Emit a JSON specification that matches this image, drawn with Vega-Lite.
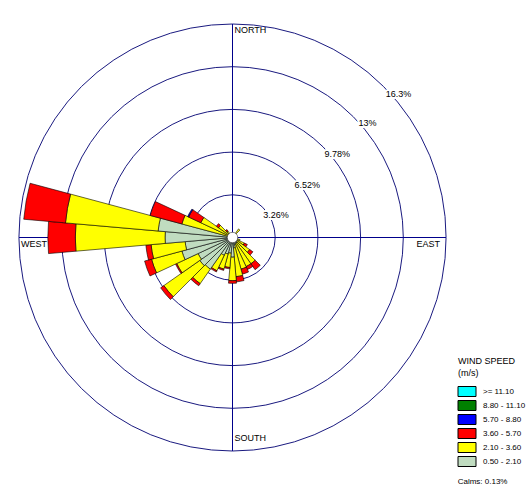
{
  "$schema": "https://vega.github.io/schema/vega-lite/v6.json",
  "width": 427,
  "height": 427,
  "padding": {"left": 17, "top": 22, "right": 0, "bottom": 0},
  "autosize": {"type": "pad"},
  "background": "white",
  "config": {"view": {"stroke": null}, "font": "Liberation Sans"},
  "datasets": {
    "rings": [
      {"r": 3.26, "label": "3.26%", "ang": 63},
      {"r": 6.52, "label": "6.52%", "ang": 55},
      {"r": 9.78, "label": "9.78%", "ang": 51.4},
      {"r": 13.04, "label": "13%", "ang": 49.8},
      {"r": 16.3, "label": "16.3%", "ang": 49.1}
    ],
    "axes": [
      {"x1": -16.3, "x2": 16.3, "y1": 0, "y2": 0},
      {"x1": 0, "x2": 0, "y1": -16.3, "y2": 16.3}
    ],
    "calm": [{"r": 0.4, "label": "Calms: 0.13%", "lx": 17.19, "ly": -18.8}],
    "bars": [
      {"d0": 35, "d1": 45, "lo": 0, "hi": 0.3, "cls": "0.50 - 2.10"},
      {"d0": 35, "d1": 45, "lo": 0.3, "hi": 0.8, "cls": "2.10 - 3.60"},
      {"d0": 105, "d1": 115, "lo": 0, "hi": 0.2, "cls": "0.50 - 2.10"},
      {"d0": 105, "d1": 115, "lo": 0.2, "hi": 0.6, "cls": "2.10 - 3.60"},
      {"d0": 115, "d1": 125, "lo": 0, "hi": 0.3, "cls": "0.50 - 2.10"},
      {"d0": 115, "d1": 125, "lo": 0.3, "hi": 1.0, "cls": "2.10 - 3.60"},
      {"d0": 115, "d1": 125, "lo": 1.0, "hi": 1.25, "cls": "3.60 - 5.70"},
      {"d0": 125, "d1": 135, "lo": 0, "hi": 0.4, "cls": "0.50 - 2.10"},
      {"d0": 125, "d1": 135, "lo": 0.4, "hi": 1.6, "cls": "2.10 - 3.60"},
      {"d0": 125, "d1": 135, "lo": 1.6, "hi": 1.9, "cls": "3.60 - 5.70"},
      {"d0": 135, "d1": 145, "lo": 0, "hi": 0.5, "cls": "0.50 - 2.10"},
      {"d0": 135, "d1": 145, "lo": 0.5, "hi": 2.45, "cls": "2.10 - 3.60"},
      {"d0": 135, "d1": 145, "lo": 2.45, "hi": 3.0, "cls": "3.60 - 5.70"},
      {"d0": 145, "d1": 155, "lo": 0, "hi": 0.5, "cls": "0.50 - 2.10"},
      {"d0": 145, "d1": 155, "lo": 0.5, "hi": 2.45, "cls": "2.10 - 3.60"},
      {"d0": 145, "d1": 155, "lo": 2.45, "hi": 2.7, "cls": "3.60 - 5.70"},
      {"d0": 155, "d1": 165, "lo": 0, "hi": 0.6, "cls": "0.50 - 2.10"},
      {"d0": 155, "d1": 165, "lo": 0.6, "hi": 2.5, "cls": "2.10 - 3.60"},
      {"d0": 155, "d1": 165, "lo": 2.5, "hi": 2.9, "cls": "3.60 - 5.70"},
      {"d0": 165, "d1": 175, "lo": 0, "hi": 0.8, "cls": "0.50 - 2.10"},
      {"d0": 165, "d1": 175, "lo": 0.8, "hi": 3.0, "cls": "2.10 - 3.60"},
      {"d0": 165, "d1": 175, "lo": 3.0, "hi": 3.4, "cls": "3.60 - 5.70"},
      {"d0": 175, "d1": 185, "lo": 0, "hi": 1.5, "cls": "0.50 - 2.10"},
      {"d0": 175, "d1": 185, "lo": 1.5, "hi": 3.3, "cls": "2.10 - 3.60"},
      {"d0": 175, "d1": 185, "lo": 3.3, "hi": 3.5, "cls": "3.60 - 5.70"},
      {"d0": 185, "d1": 195, "lo": 0, "hi": 1.2, "cls": "0.50 - 2.10"},
      {"d0": 185, "d1": 195, "lo": 1.2, "hi": 2.3, "cls": "2.10 - 3.60"},
      {"d0": 185, "d1": 195, "lo": 2.3, "hi": 2.4, "cls": "3.60 - 5.70"},
      {"d0": 195, "d1": 205, "lo": 0, "hi": 1.3, "cls": "0.50 - 2.10"},
      {"d0": 195, "d1": 205, "lo": 1.3, "hi": 2.5, "cls": "2.10 - 3.60"},
      {"d0": 195, "d1": 205, "lo": 2.5, "hi": 2.6, "cls": "3.60 - 5.70"},
      {"d0": 205, "d1": 215, "lo": 0, "hi": 1.5, "cls": "0.50 - 2.10"},
      {"d0": 205, "d1": 215, "lo": 1.5, "hi": 2.8, "cls": "2.10 - 3.60"},
      {"d0": 205, "d1": 215, "lo": 2.8, "hi": 2.9, "cls": "3.60 - 5.70"},
      {"d0": 215, "d1": 225, "lo": 0, "hi": 2.95, "cls": "0.50 - 2.10"},
      {"d0": 215, "d1": 225, "lo": 2.95, "hi": 4.3, "cls": "2.10 - 3.60"},
      {"d0": 215, "d1": 225, "lo": 4.3, "hi": 4.5, "cls": "3.60 - 5.70"},
      {"d0": 225, "d1": 235, "lo": 0, "hi": 3.05, "cls": "0.50 - 2.10"},
      {"d0": 225, "d1": 235, "lo": 3.05, "hi": 6.4, "cls": "2.10 - 3.60"},
      {"d0": 225, "d1": 235, "lo": 6.4, "hi": 6.7, "cls": "3.60 - 5.70"},
      {"d0": 235, "d1": 245, "lo": 0, "hi": 2.9, "cls": "0.50 - 2.10"},
      {"d0": 235, "d1": 245, "lo": 2.9, "hi": 4.7, "cls": "2.10 - 3.60"},
      {"d0": 235, "d1": 245, "lo": 4.7, "hi": 4.8, "cls": "3.60 - 5.70"},
      {"d0": 245, "d1": 255, "lo": 0, "hi": 4.0, "cls": "0.50 - 2.10"},
      {"d0": 245, "d1": 255, "lo": 4.0, "hi": 6.4, "cls": "2.10 - 3.60"},
      {"d0": 245, "d1": 255, "lo": 6.4, "hi": 6.95, "cls": "3.60 - 5.70"},
      {"d0": 255, "d1": 265, "lo": 0, "hi": 3.63, "cls": "0.50 - 2.10"},
      {"d0": 255, "d1": 265, "lo": 3.63, "hi": 6.24, "cls": "2.10 - 3.60"},
      {"d0": 255, "d1": 265, "lo": 6.24, "hi": 6.64, "cls": "3.60 - 5.70"},
      {"d0": 265, "d1": 275, "lo": 0, "hi": 5.15, "cls": "0.50 - 2.10"},
      {"d0": 265, "d1": 275, "lo": 5.15, "hi": 12.0, "cls": "2.10 - 3.60"},
      {"d0": 265, "d1": 275, "lo": 12.0, "hi": 14.1, "cls": "3.60 - 5.70"},
      {"d0": 275, "d1": 285, "lo": 0, "hi": 5.7, "cls": "0.50 - 2.10"},
      {"d0": 275, "d1": 285, "lo": 5.7, "hi": 12.8, "cls": "2.10 - 3.60"},
      {"d0": 275, "d1": 285, "lo": 12.8, "hi": 16.0, "cls": "3.60 - 5.70"},
      {"d0": 285, "d1": 295, "lo": 0, "hi": 0.3, "cls": "0.50 - 2.10"},
      {"d0": 285, "d1": 295, "lo": 0.3, "hi": 4.0, "cls": "2.10 - 3.60"},
      {"d0": 285, "d1": 295, "lo": 4.0, "hi": 6.5, "cls": "3.60 - 5.70"},
      {"d0": 295, "d1": 305, "lo": 0, "hi": 0.3, "cls": "0.50 - 2.10"},
      {"d0": 295, "d1": 305, "lo": 0.3, "hi": 2.67, "cls": "2.10 - 3.60"},
      {"d0": 295, "d1": 305, "lo": 2.67, "hi": 3.7, "cls": "3.60 - 5.70"},
      {"d0": 295, "d1": 305, "lo": 3.7, "hi": 3.78, "cls": "5.70 - 8.80"},
      {"d0": 305, "d1": 315, "lo": 0, "hi": 0.3, "cls": "0.50 - 2.10"},
      {"d0": 305, "d1": 315, "lo": 0.3, "hi": 1.3, "cls": "2.10 - 3.60"},
      {"d0": 305, "d1": 315, "lo": 1.3, "hi": 1.5, "cls": "3.60 - 5.70"},
      {"d0": 315, "d1": 325, "lo": 0, "hi": 0.2, "cls": "0.50 - 2.10"},
      {"d0": 315, "d1": 325, "lo": 0.2, "hi": 0.6, "cls": "2.10 - 3.60"},
      {"d0": 315, "d1": 325, "lo": 0.6, "hi": 0.75, "cls": "3.60 - 5.70"}
    ],
    "dirA": [
      {"t": "NORTH", "x": 0, "y": 16.3},
      {"t": "WEST", "x": -16.3, "y": 0}
    ],
    "dirE": [{"t": "EAST", "x": 16.3, "y": 0}],
    "dirS": [{"t": "SOUTH", "x": 0, "y": -16.3}]
  },
  "layer": [
    {
      "data": {"name": "rings"},
      "mark": {"type": "arc", "theta": 0, "theta2": 6.2832, "filled": false, "fill": null, "stroke": "#1a1a80", "strokeWidth": 1},
      "encoding": {
        "radius": {"field": "r", "type": "quantitative", "stack": null, "scale": {"type": "linear", "domain": [0, 16.3], "range": [0, 213.5], "zero": true, "nice": false}}
      }
    },
    {
      "data": {"name": "axes"},
      "mark": {"type": "rule", "stroke": "#00008b", "strokeWidth": 1},
      "encoding": {
        "x": {"field": "x1", "type": "quantitative", "axis": null, "scale": {"domain": [-16.3, 16.3], "nice": false, "zero": false}},
        "x2": {"field": "x2"},
        "y": {"field": "y1", "type": "quantitative", "axis": null, "scale": {"domain": [-16.3, 16.3], "nice": false, "zero": false}},
        "y2": {"field": "y2"}
      }
    },
    {
      "data": {"name": "bars"},
      "mark": {"type": "arc", "stroke": "black", "strokeWidth": 0.6, "opacity": 1},
      "encoding": {
        "theta": {"field": "d0", "type": "quantitative", "stack": null, "scale": {"type": "linear", "domain": [0, 360], "range": [0, 6.283185307], "zero": false, "nice": false}},
        "theta2": {"field": "d1"},
        "radius": {"field": "hi", "type": "quantitative", "stack": null, "scale": {"type": "linear", "domain": [0, 16.3], "range": [0, 213.5], "zero": true, "nice": false}},
        "radius2": {"field": "lo"},
        "color": {
          "field": "cls",
          "type": "nominal",
          "scale": {
            "domain": [">= 11.10", "8.80 - 11.10", "5.70 - 8.80", "3.60 - 5.70", "2.10 - 3.60", "0.50 - 2.10"],
            "range": ["#00ffff", "#008000", "#0000ff", "#ff0000", "#ffff00", "#c0dcc0"]
          },
          "legend": {
            "orient": "none",
            "legendX": 439,
            "legendY": 333,
            "title": ["WIND SPEED", "(m/s)"],
            "titleFont": "Liberation Sans",
            "titleFontSize": 9,
            "titleFontWeight": "normal",
            "titleColor": "black",
            "titleLineHeight": 12,
            "titlePadding": 8,
            "titleAnchor": "start",
            "labelFont": "Liberation Sans",
            "labelFontSize": 8,
            "labelColor": "black",
            "symbolType": "M-1.1,-1H2.5V1H-1.1Z",
            "symbolSize": 100,
            "symbolStrokeColor": "black",
            "symbolStrokeWidth": 1,
            "symbolOpacity": 1,
            "labelOffset": 14,
            "rowPadding": -1,
            "padding": 0
          }
        }
      }
    },
    {
      "data": {"name": "calm"},
      "mark": {"type": "arc", "theta": 0, "theta2": 6.2832, "fill": "white", "stroke": "#333333", "strokeWidth": 0.6},
      "encoding": {
        "radius": {"field": "r", "type": "quantitative", "stack": null, "scale": {"type": "linear", "domain": [0, 16.3], "range": [0, 213.5], "zero": true, "nice": false}}
      }
    },
    {
      "data": {"name": "rings"},
      "mark": {"type": "text", "radiusOffset": 6, "font": "Liberation Sans", "fontSize": 9, "fill": "white", "stroke": "white", "strokeWidth": 4, "align": "center", "baseline": "middle"},
      "encoding": {
        "theta": {"field": "ang", "type": "quantitative", "stack": null, "scale": {"type": "linear", "domain": [0, 360], "range": [0, 6.283185307], "zero": false, "nice": false}},
        "radius": {"field": "r", "type": "quantitative", "stack": null, "scale": {"type": "linear", "domain": [0, 16.3], "range": [0, 213.5], "zero": true, "nice": false}},
        "text": {"field": "label"}
      }
    },
    {
      "data": {"name": "rings"},
      "mark": {"type": "text", "radiusOffset": 6, "font": "Liberation Sans", "fontSize": 9, "fill": "black", "align": "center", "baseline": "middle"},
      "encoding": {
        "theta": {"field": "ang", "type": "quantitative", "stack": null, "scale": {"type": "linear", "domain": [0, 360], "range": [0, 6.283185307], "zero": false, "nice": false}},
        "radius": {"field": "r", "type": "quantitative", "stack": null, "scale": {"type": "linear", "domain": [0, 16.3], "range": [0, 213.5], "zero": true, "nice": false}},
        "text": {"field": "label"}
      }
    },
    {
      "data": {"name": "dirA"},
      "mark": {"type": "text", "font": "Liberation Sans", "fontSize": 9, "fill": "black", "align": "left", "baseline": "top", "dx": 2, "dy": 2},
      "encoding": {
        "x": {"field": "x", "type": "quantitative"},
        "y": {"field": "y", "type": "quantitative"},
        "text": {"field": "t"}
      }
    },
    {
      "data": {"name": "dirE"},
      "mark": {"type": "text", "font": "Liberation Sans", "fontSize": 9, "fill": "black", "align": "right", "baseline": "top", "dx": -6, "dy": 2},
      "encoding": {
        "x": {"field": "x", "type": "quantitative"},
        "y": {"field": "y", "type": "quantitative"},
        "text": {"field": "t"}
      }
    },
    {
      "data": {"name": "dirS"},
      "mark": {"type": "text", "font": "Liberation Sans", "fontSize": 9, "fill": "black", "align": "left", "baseline": "alphabetic", "dx": 2, "dy": -10},
      "encoding": {
        "x": {"field": "x", "type": "quantitative"},
        "y": {"field": "y", "type": "quantitative"},
        "text": {"field": "t"}
      }
    },
    {
      "data": {"name": "calm"},
      "mark": {"type": "text", "font": "Liberation Sans", "fontSize": 8, "fill": "black", "align": "left", "baseline": "alphabetic"},
      "encoding": {
        "x": {"field": "lx", "type": "quantitative"},
        "y": {"field": "ly", "type": "quantitative"},
        "text": {"field": "label"}
      }
    }
  ]
}
